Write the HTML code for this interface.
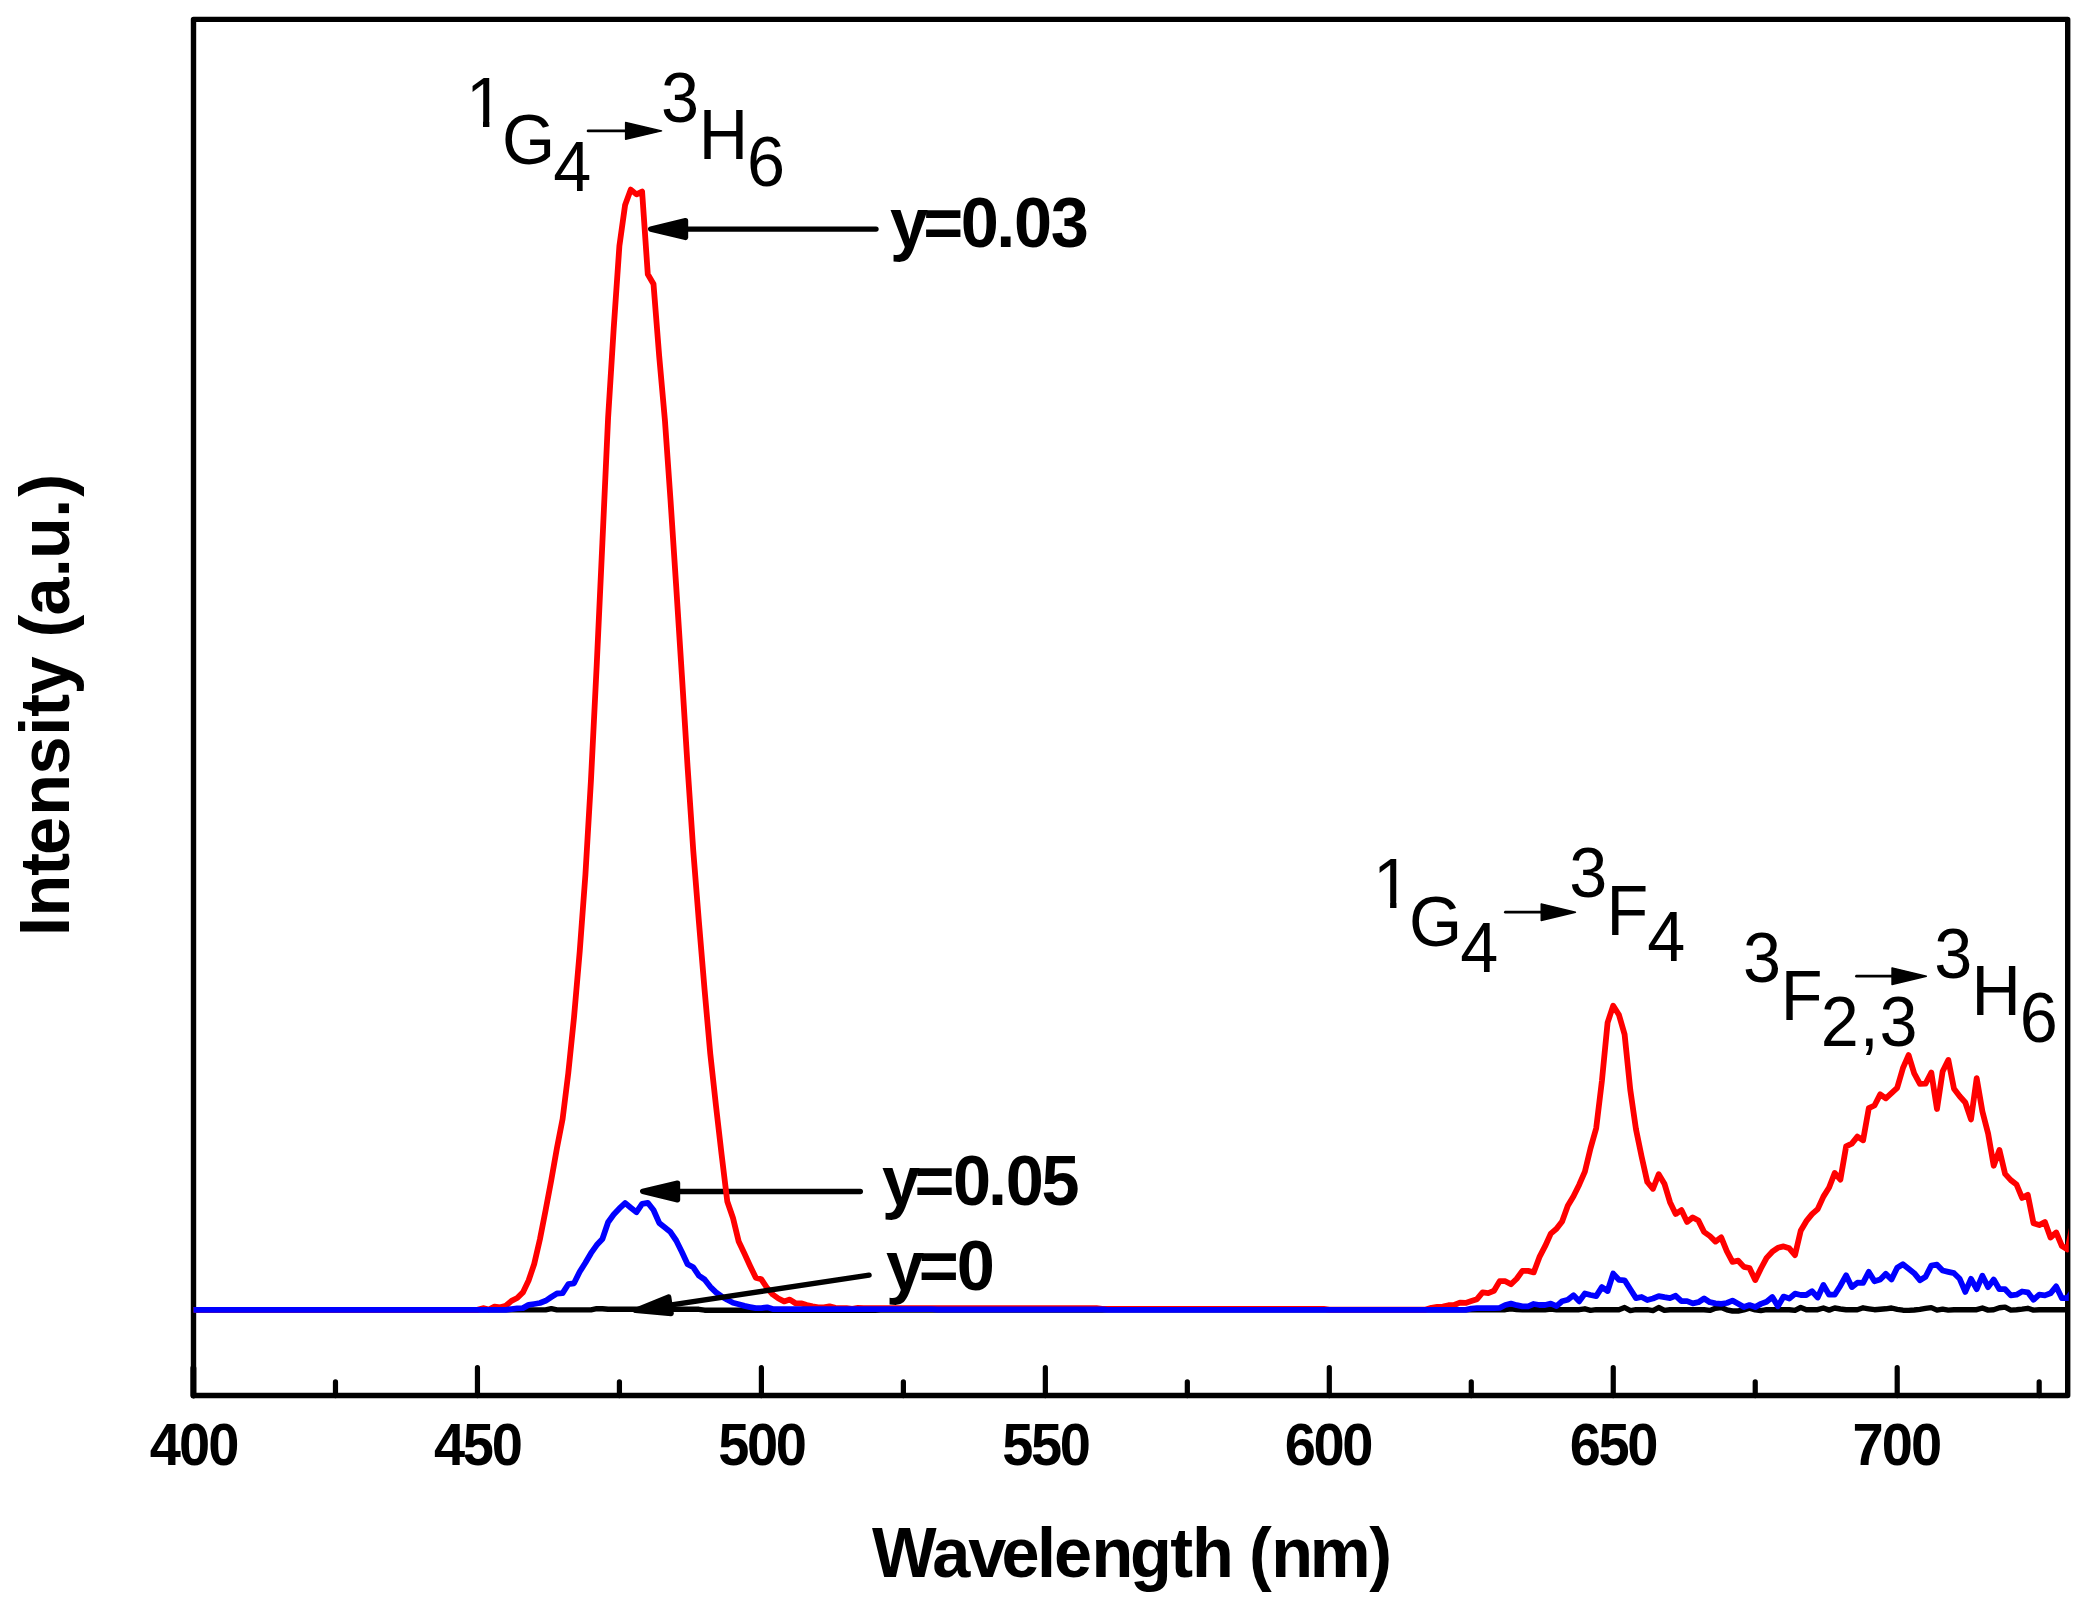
<!DOCTYPE html>
<html lang="en"><head><meta charset="utf-8"><title>Emission spectra</title>
<style>html,body{margin:0;padding:0;background:#fff}body{width:2094px;height:1602px;overflow:hidden}svg{display:block}text{font-family:"Liberation Sans",sans-serif;fill:#000}.b{font-weight:bold}</style></head><body>
<svg width="2094" height="1602" viewBox="0 0 2094 1602">
<rect width="2094" height="1602" fill="#fff"/>
<g fill="none" stroke="#000" stroke-width="5.4" stroke-linecap="round" stroke-linejoin="round">
<rect x="193.50" y="19.40" width="1874.20" height="1376.15"/>
<path stroke-width="5.2" d="M193.50,1395.55 V1367.70 M335.48,1395.55 V1381.90 M477.45,1395.55 V1367.70 M619.42,1395.55 V1381.90 M761.40,1395.55 V1367.70 M903.38,1395.55 V1381.90 M1045.35,1395.55 V1367.70 M1187.33,1395.55 V1381.90 M1329.30,1395.55 V1367.70 M1471.28,1395.55 V1381.90 M1613.25,1395.55 V1367.70 M1755.23,1395.55 V1381.90 M1897.20,1395.55 V1367.70 M2039.18,1395.55 V1381.90"/>
<path stroke-width="5.9" d="M193.35,1395.5 V1368.0"/>
</g>
<path d="M860.30,1191.45 L677.50,1191.45" fill="none" stroke="#000" stroke-width="5.40" stroke-linecap="round"/><path d="M642.70,1191.45 L677.50,1199.80 L677.50,1183.10 Z" fill="#000" stroke="#000" stroke-width="5.40" stroke-linejoin="round"/>
<clipPath id="cp"><rect x="0" y="0" width="2068.8" height="1602"/></clipPath>
<g fill="none" stroke-width="5.8" stroke-linejoin="round" stroke-linecap="butt" clip-path="url(#cp)">
<path stroke="#000" stroke-width="5.4" d="M193.5,1309.9 L199.2,1309.9 L204.9,1309.9 L210.5,1309.9 L216.2,1309.9 L221.9,1309.9 L227.6,1309.9 L233.3,1309.9 L238.9,1309.9 L244.6,1309.9 L250.3,1309.9 L256.0,1309.9 L261.6,1309.9 L267.3,1309.9 L273.0,1309.9 L278.7,1309.9 L284.4,1309.9 L290.0,1309.9 L295.7,1309.9 L301.4,1309.9 L307.1,1309.9 L312.8,1309.9 L318.4,1309.9 L324.1,1309.9 L329.8,1309.9 L335.5,1309.9 L341.2,1309.9 L346.8,1309.9 L352.5,1309.9 L358.2,1309.9 L363.9,1309.9 L369.5,1309.9 L375.2,1309.9 L380.9,1309.9 L386.6,1309.9 L392.3,1309.9 L397.9,1309.9 L403.6,1309.9 L409.3,1309.9 L415.0,1309.9 L420.7,1309.9 L426.3,1309.9 L432.0,1309.9 L437.7,1309.9 L443.4,1309.9 L449.1,1309.9 L454.7,1309.9 L460.4,1309.9 L466.1,1309.9 L471.8,1309.9 L477.4,1309.9 L483.1,1309.9 L488.8,1309.9 L494.5,1309.9 L500.2,1309.9 L505.8,1309.9 L511.5,1309.9 L517.2,1309.9 L522.9,1309.9 L528.6,1309.9 L534.2,1309.9 L539.9,1309.9 L545.6,1309.9 L551.3,1308.6 L557.0,1309.9 L562.6,1309.9 L568.3,1309.9 L574.0,1309.9 L579.7,1309.9 L585.4,1309.9 L591.0,1309.9 L596.7,1308.7 L602.4,1308.7 L608.1,1309.3 L613.7,1309.3 L619.4,1309.3 L625.1,1309.3 L630.8,1309.3 L636.5,1309.3 L642.1,1309.3 L647.8,1309.3 L653.5,1309.3 L659.2,1309.3 L664.9,1309.3 L670.5,1309.3 L676.2,1309.3 L681.9,1309.3 L687.6,1309.3 L693.3,1309.3 L698.9,1309.3 L704.6,1310.2 L710.3,1310.2 L716.0,1310.2 L721.6,1310.2 L727.3,1310.2 L733.0,1310.2 L738.7,1310.2 L744.4,1310.2 L750.0,1310.2 L755.7,1310.2 L761.4,1310.2 L767.1,1310.2 L772.8,1310.2 L778.4,1310.2 L784.1,1310.2 L789.8,1310.2 L795.5,1310.2 L801.2,1310.2 L806.8,1310.2 L812.5,1310.2 L818.2,1310.2 L823.9,1310.2 L829.5,1310.2 L835.2,1310.2 L840.9,1310.2 L846.6,1310.2 L852.3,1310.2 L857.9,1310.2 L863.6,1310.2 L869.3,1310.2 L875.0,1310.2 L880.7,1310.0 L886.3,1310.0 L892.0,1310.0 L897.7,1310.0 L903.4,1310.0 L909.1,1310.0 L914.7,1310.0 L920.4,1310.0 L926.1,1310.0 L931.8,1310.0 L937.4,1310.0 L943.1,1310.0 L948.8,1310.0 L954.5,1310.0 L960.2,1310.0 L965.8,1310.0 L971.5,1310.0 L977.2,1310.0 L982.9,1310.0 L988.6,1310.0 L994.2,1310.0 L999.9,1310.0 L1005.6,1310.0 L1011.3,1310.0 L1017.0,1310.0 L1022.6,1310.0 L1028.3,1310.0 L1034.0,1310.0 L1039.7,1310.0 L1045.3,1310.0 L1051.0,1310.0 L1056.7,1310.0 L1062.4,1310.0 L1068.1,1310.0 L1073.7,1310.0 L1079.4,1310.0 L1085.1,1310.0 L1090.8,1310.0 L1096.5,1310.0 L1102.1,1310.0 L1107.8,1309.7 L1113.5,1309.7 L1119.2,1309.7 L1124.9,1309.7 L1130.5,1309.7 L1136.2,1309.7 L1141.9,1309.7 L1147.6,1309.7 L1153.3,1309.7 L1158.9,1309.7 L1164.6,1309.7 L1170.3,1309.7 L1176.0,1309.7 L1181.6,1309.7 L1187.3,1309.7 L1193.0,1309.7 L1198.7,1309.7 L1204.4,1309.7 L1210.0,1309.7 L1215.7,1309.7 L1221.4,1309.7 L1227.1,1309.7 L1232.8,1309.7 L1238.4,1309.7 L1244.1,1309.7 L1249.8,1309.7 L1255.5,1309.7 L1261.2,1309.7 L1266.8,1309.7 L1272.5,1309.7 L1278.2,1309.7 L1283.9,1309.7 L1289.5,1309.7 L1295.2,1309.7 L1300.9,1309.7 L1306.6,1309.7 L1312.3,1309.7 L1317.9,1309.7 L1323.6,1309.7 L1329.3,1309.7 L1335.0,1309.7 L1340.7,1309.7 L1346.3,1309.7 L1352.0,1309.7 L1357.7,1309.7 L1363.4,1309.7 L1369.1,1309.7 L1374.7,1309.7 L1380.4,1309.7 L1386.1,1309.7 L1391.8,1309.7 L1397.4,1309.7 L1403.1,1309.7 L1408.8,1309.7 L1414.5,1309.7 L1420.2,1309.7 L1425.8,1309.7 L1431.5,1309.7 L1437.2,1309.7 L1442.9,1309.7 L1448.6,1309.7 L1454.2,1309.7 L1459.9,1309.7 L1465.6,1309.7 L1471.3,1309.7 L1477.0,1309.7 L1482.6,1309.7 L1488.3,1309.7 L1494.0,1309.7 L1499.7,1309.7 L1505.3,1309.7 L1511.0,1308.8 L1516.7,1309.6 L1522.4,1309.7 L1528.1,1309.7 L1533.7,1309.7 L1539.4,1309.7 L1545.1,1309.7 L1550.8,1309.0 L1556.5,1309.7 L1562.1,1309.7 L1567.8,1309.7 L1573.5,1309.7 L1579.2,1309.7 L1584.9,1308.8 L1590.5,1310.4 L1596.2,1309.6 L1601.9,1309.7 L1607.6,1309.7 L1613.2,1309.7 L1618.9,1309.7 L1624.6,1307.5 L1630.3,1310.6 L1636.0,1309.7 L1641.6,1309.7 L1647.3,1309.7 L1653.0,1310.6 L1658.7,1307.5 L1664.4,1310.4 L1670.0,1309.7 L1675.7,1309.7 L1681.4,1309.7 L1687.1,1309.7 L1692.8,1309.7 L1698.4,1309.7 L1704.1,1309.7 L1709.8,1310.4 L1715.5,1308.2 L1721.2,1307.6 L1726.8,1309.8 L1732.5,1311.0 L1738.2,1311.0 L1743.9,1309.8 L1749.5,1308.1 L1755.2,1309.8 L1760.9,1310.6 L1766.6,1309.7 L1772.3,1309.7 L1777.9,1309.7 L1783.6,1309.7 L1789.3,1309.7 L1795.0,1310.4 L1800.7,1307.5 L1806.3,1309.8 L1812.0,1309.7 L1817.7,1309.7 L1823.4,1308.0 L1829.1,1310.1 L1834.7,1308.0 L1840.4,1309.0 L1846.1,1309.7 L1851.8,1309.7 L1857.4,1309.7 L1863.1,1307.8 L1868.8,1308.8 L1874.5,1309.7 L1880.2,1309.2 L1885.8,1308.8 L1891.5,1308.0 L1897.2,1309.4 L1902.9,1310.2 L1908.6,1310.4 L1914.2,1310.0 L1919.9,1309.4 L1925.6,1308.4 L1931.3,1307.6 L1937.0,1310.1 L1942.6,1309.1 L1948.3,1310.1 L1954.0,1309.7 L1959.7,1309.7 L1965.3,1309.7 L1971.0,1309.7 L1976.7,1309.7 L1982.4,1308.0 L1988.1,1310.1 L1993.7,1309.7 L1999.4,1307.8 L2005.1,1307.1 L2010.8,1310.1 L2016.5,1309.7 L2022.1,1309.1 L2027.8,1308.3 L2033.5,1310.1 L2039.2,1309.7 L2044.9,1309.7 L2050.5,1309.7 L2056.2,1309.7 L2061.9,1309.7 L2067.6,1309.7 L2073.2,1309.7"/>
<path stroke="#f00" d="M193.5,1309.9 L199.2,1309.9 L204.9,1309.9 L210.5,1309.9 L216.2,1309.9 L221.9,1309.9 L227.6,1309.9 L233.3,1309.9 L238.9,1309.9 L244.6,1309.9 L250.3,1309.9 L256.0,1309.9 L261.6,1309.9 L267.3,1309.9 L273.0,1309.9 L278.7,1309.9 L284.4,1309.9 L290.0,1309.9 L295.7,1309.9 L301.4,1309.9 L307.1,1309.9 L312.8,1309.9 L318.4,1309.9 L324.1,1309.9 L329.8,1309.9 L335.5,1309.9 L341.2,1309.9 L346.8,1309.9 L352.5,1309.9 L358.2,1309.9 L363.9,1309.9 L369.5,1309.9 L375.2,1309.9 L380.9,1309.9 L386.6,1309.9 L392.3,1309.9 L397.9,1309.9 L403.6,1309.9 L409.3,1309.9 L415.0,1309.9 L420.7,1309.9 L426.3,1309.9 L432.0,1309.9 L437.7,1309.9 L443.4,1309.9 L449.1,1309.9 L454.7,1309.9 L460.4,1309.9 L466.1,1309.9 L471.8,1309.9 L477.4,1309.9 L483.1,1308.2 L488.8,1309.5 L494.5,1306.6 L500.2,1307.4 L505.8,1305.8 L511.5,1300.9 L517.2,1298.0 L522.9,1292.4 L528.6,1280.5 L534.2,1264.0 L539.9,1239.4 L545.6,1210.2 L551.3,1180.0 L557.0,1147.8 L562.6,1119.0 L568.3,1073.0 L574.0,1017.5 L579.7,951.7 L585.4,874.9 L591.0,779.5 L596.7,665.4 L602.4,542.3 L608.1,417.8 L613.7,328.5 L619.4,245.9 L625.1,205.0 L630.8,189.6 L636.5,194.4 L642.1,191.6 L647.8,274.3 L653.5,283.9 L659.2,356.2 L664.9,420.0 L670.5,499.9 L676.2,586.5 L681.9,675.5 L687.6,767.0 L693.3,851.1 L698.9,921.8 L704.6,990.1 L710.3,1054.0 L716.0,1106.0 L721.6,1154.5 L727.3,1201.5 L733.0,1218.0 L738.7,1241.5 L744.4,1253.5 L750.0,1265.7 L755.7,1277.6 L761.4,1279.3 L767.1,1288.0 L772.8,1294.5 L778.4,1298.5 L784.1,1301.4 L789.8,1299.6 L795.5,1303.3 L801.2,1303.4 L806.8,1305.0 L812.5,1306.3 L818.2,1307.3 L823.9,1307.3 L829.5,1306.3 L835.2,1307.9 L840.9,1308.1 L846.6,1308.1 L852.3,1308.8 L857.9,1307.9 L863.6,1308.1 L869.3,1308.1 L875.0,1308.1 L880.7,1308.1 L886.3,1308.1 L892.0,1308.1 L897.7,1308.1 L903.4,1308.1 L909.1,1308.1 L914.7,1308.1 L920.4,1308.1 L926.1,1308.1 L931.8,1308.1 L937.4,1308.1 L943.1,1308.1 L948.8,1308.1 L954.5,1308.1 L960.2,1308.1 L965.8,1308.1 L971.5,1308.1 L977.2,1308.1 L982.9,1308.1 L988.6,1308.1 L994.2,1308.1 L999.9,1308.1 L1005.6,1308.1 L1011.3,1308.1 L1017.0,1308.1 L1022.6,1308.1 L1028.3,1308.1 L1034.0,1308.1 L1039.7,1308.1 L1045.3,1308.1 L1051.0,1308.1 L1056.7,1308.1 L1062.4,1308.1 L1068.1,1308.1 L1073.7,1308.1 L1079.4,1308.1 L1085.1,1308.1 L1090.8,1308.1 L1096.5,1308.1 L1102.1,1308.8 L1107.8,1308.8 L1113.5,1308.8 L1119.2,1308.8 L1124.9,1308.8 L1130.5,1308.8 L1136.2,1308.8 L1141.9,1308.8 L1147.6,1308.8 L1153.3,1308.8 L1158.9,1308.8 L1164.6,1308.8 L1170.3,1308.8 L1176.0,1308.8 L1181.6,1308.8 L1187.3,1308.8 L1193.0,1308.8 L1198.7,1308.8 L1204.4,1308.8 L1210.0,1308.8 L1215.7,1308.8 L1221.4,1308.8 L1227.1,1308.8 L1232.8,1308.8 L1238.4,1308.8 L1244.1,1308.8 L1249.8,1308.8 L1255.5,1308.8 L1261.2,1308.8 L1266.8,1308.8 L1272.5,1308.8 L1278.2,1308.8 L1283.9,1308.8 L1289.5,1308.8 L1295.2,1308.8 L1300.9,1308.8 L1306.6,1308.8 L1312.3,1308.8 L1317.9,1308.8 L1323.6,1308.8 L1329.3,1309.6 L1335.0,1309.6 L1340.7,1309.6 L1346.3,1309.6 L1352.0,1309.6 L1357.7,1309.6 L1363.4,1309.6 L1369.1,1309.6 L1374.7,1309.6 L1380.4,1309.6 L1386.1,1309.6 L1391.8,1309.6 L1397.4,1309.6 L1403.1,1309.6 L1408.8,1309.6 L1414.5,1309.6 L1420.2,1309.6 L1425.8,1309.6 L1431.5,1307.8 L1437.2,1306.9 L1442.9,1306.6 L1448.6,1305.2 L1454.2,1305.0 L1459.9,1302.6 L1465.6,1302.9 L1471.3,1301.1 L1477.0,1299.2 L1482.6,1292.4 L1488.3,1293.1 L1494.0,1290.8 L1499.7,1281.1 L1505.3,1281.2 L1511.0,1284.3 L1516.7,1278.7 L1522.4,1270.9 L1528.1,1270.9 L1533.7,1272.4 L1539.4,1257.2 L1545.1,1246.2 L1550.8,1233.6 L1556.5,1228.8 L1562.1,1221.5 L1567.8,1205.7 L1573.5,1196.3 L1579.2,1184.7 L1584.9,1171.6 L1590.5,1148.4 L1596.2,1128.2 L1601.9,1081.0 L1607.6,1022.6 L1613.2,1005.7 L1618.9,1014.7 L1624.6,1034.4 L1630.3,1090.0 L1636.0,1129.3 L1641.6,1156.5 L1647.3,1182.0 L1653.0,1188.8 L1658.7,1174.2 L1664.4,1183.7 L1670.0,1202.2 L1675.7,1214.0 L1681.4,1210.1 L1687.1,1221.9 L1692.8,1217.4 L1698.4,1220.6 L1704.1,1232.0 L1709.8,1236.0 L1715.5,1241.6 L1721.2,1237.4 L1726.8,1251.1 L1732.5,1261.8 L1738.2,1260.7 L1743.9,1266.9 L1749.5,1268.0 L1755.2,1280.1 L1760.9,1268.5 L1766.6,1257.9 L1772.3,1251.7 L1777.9,1247.8 L1783.6,1246.4 L1789.3,1248.3 L1795.0,1255.1 L1800.7,1230.8 L1806.3,1221.2 L1812.0,1214.2 L1817.7,1209.1 L1823.4,1196.6 L1829.1,1187.5 L1834.7,1173.0 L1840.4,1179.6 L1846.1,1146.4 L1851.8,1143.6 L1857.4,1136.6 L1863.1,1140.3 L1868.8,1108.2 L1874.5,1105.5 L1880.2,1094.4 L1885.8,1098.3 L1891.5,1093.1 L1897.2,1087.8 L1902.9,1068.2 L1908.6,1055.1 L1914.2,1073.4 L1919.9,1083.9 L1925.6,1083.6 L1931.3,1072.5 L1937.0,1109.0 L1942.6,1071.6 L1948.3,1059.9 L1954.0,1088.7 L1959.7,1096.3 L1965.3,1102.5 L1971.0,1119.4 L1976.7,1078.2 L1982.4,1111.4 L1988.1,1133.4 L1993.7,1165.7 L1999.4,1149.9 L2005.1,1173.9 L2010.8,1180.1 L2016.5,1184.5 L2022.1,1197.9 L2027.8,1194.9 L2033.5,1223.3 L2039.2,1225.1 L2044.9,1222.0 L2050.5,1237.5 L2056.2,1232.5 L2061.9,1246.0 L2067.6,1249.4 L2073.2,1221.6"/>
<path stroke="#00f" d="M193.5,1309.8 L199.2,1309.8 L204.9,1309.8 L210.5,1309.8 L216.2,1309.8 L221.9,1309.8 L227.6,1309.8 L233.3,1309.8 L238.9,1309.8 L244.6,1309.8 L250.3,1309.8 L256.0,1309.8 L261.6,1309.8 L267.3,1309.8 L273.0,1309.8 L278.7,1309.8 L284.4,1309.8 L290.0,1309.8 L295.7,1309.8 L301.4,1309.8 L307.1,1309.8 L312.8,1309.8 L318.4,1309.8 L324.1,1309.8 L329.8,1309.8 L335.5,1309.8 L341.2,1309.8 L346.8,1309.8 L352.5,1309.8 L358.2,1309.8 L363.9,1309.8 L369.5,1309.8 L375.2,1309.8 L380.9,1309.8 L386.6,1309.8 L392.3,1309.8 L397.9,1309.8 L403.6,1309.8 L409.3,1309.8 L415.0,1309.8 L420.7,1309.8 L426.3,1309.8 L432.0,1309.8 L437.7,1309.8 L443.4,1309.8 L449.1,1309.8 L454.7,1309.8 L460.4,1309.8 L466.1,1309.8 L471.8,1309.8 L477.4,1309.8 L483.1,1309.8 L488.8,1309.8 L494.5,1309.8 L500.2,1309.8 L505.8,1309.8 L511.5,1309.1 L517.2,1308.3 L522.9,1308.1 L528.6,1304.9 L534.2,1304.0 L539.9,1303.0 L545.6,1300.8 L551.3,1297.0 L557.0,1293.5 L562.6,1293.1 L568.3,1284.2 L574.0,1283.3 L579.7,1271.8 L585.4,1262.8 L591.0,1253.2 L596.7,1245.1 L602.4,1239.0 L608.1,1222.2 L613.7,1214.5 L619.4,1208.4 L625.1,1203.1 L630.8,1207.7 L636.5,1212.2 L642.1,1203.8 L647.8,1202.8 L653.5,1210.0 L659.2,1222.9 L664.9,1227.5 L670.5,1232.1 L676.2,1240.5 L681.9,1252.0 L687.6,1264.2 L693.3,1267.3 L698.9,1275.7 L704.6,1279.5 L710.3,1286.8 L716.0,1292.3 L721.6,1296.4 L727.3,1299.8 L733.0,1302.8 L738.7,1304.2 L744.4,1305.9 L750.0,1307.1 L755.7,1308.2 L761.4,1308.1 L767.1,1307.3 L772.8,1309.1 L778.4,1309.2 L784.1,1309.2 L789.8,1309.2 L795.5,1309.2 L801.2,1309.2 L806.8,1309.2 L812.5,1309.2 L818.2,1309.2 L823.9,1309.2 L829.5,1309.2 L835.2,1309.2 L840.9,1309.2 L846.6,1309.2 L852.3,1309.2 L857.9,1309.2 L863.6,1309.2 L869.3,1309.2 L875.0,1309.2 L880.7,1309.2 L886.3,1309.2 L892.0,1309.2 L897.7,1309.2 L903.4,1309.2 L909.1,1309.2 L914.7,1309.2 L920.4,1309.2 L926.1,1309.2 L931.8,1309.2 L937.4,1309.5 L943.1,1309.5 L948.8,1309.5 L954.5,1309.5 L960.2,1309.5 L965.8,1309.5 L971.5,1309.5 L977.2,1309.5 L982.9,1309.5 L988.6,1309.5 L994.2,1309.5 L999.9,1309.5 L1005.6,1309.5 L1011.3,1309.5 L1017.0,1309.5 L1022.6,1309.5 L1028.3,1309.5 L1034.0,1309.5 L1039.7,1309.5 L1045.3,1309.5 L1051.0,1309.5 L1056.7,1309.5 L1062.4,1309.5 L1068.1,1309.5 L1073.7,1309.5 L1079.4,1309.5 L1085.1,1309.5 L1090.8,1309.5 L1096.5,1309.5 L1102.1,1309.5 L1107.8,1309.8 L1113.5,1309.8 L1119.2,1309.8 L1124.9,1309.8 L1130.5,1309.8 L1136.2,1309.8 L1141.9,1309.8 L1147.6,1309.8 L1153.3,1309.8 L1158.9,1309.8 L1164.6,1309.8 L1170.3,1309.8 L1176.0,1309.8 L1181.6,1309.8 L1187.3,1309.8 L1193.0,1309.8 L1198.7,1309.8 L1204.4,1309.8 L1210.0,1309.8 L1215.7,1309.8 L1221.4,1309.8 L1227.1,1309.8 L1232.8,1309.8 L1238.4,1309.8 L1244.1,1309.8 L1249.8,1309.8 L1255.5,1309.8 L1261.2,1309.8 L1266.8,1309.8 L1272.5,1309.8 L1278.2,1309.8 L1283.9,1309.8 L1289.5,1309.8 L1295.2,1309.8 L1300.9,1309.8 L1306.6,1309.8 L1312.3,1309.8 L1317.9,1309.8 L1323.6,1309.8 L1329.3,1309.8 L1335.0,1309.8 L1340.7,1309.8 L1346.3,1309.8 L1352.0,1309.8 L1357.7,1309.8 L1363.4,1309.8 L1369.1,1309.8 L1374.7,1309.8 L1380.4,1309.8 L1386.1,1309.8 L1391.8,1309.8 L1397.4,1309.8 L1403.1,1309.8 L1408.8,1309.8 L1414.5,1309.8 L1420.2,1309.8 L1425.8,1309.8 L1431.5,1309.8 L1437.2,1309.8 L1442.9,1309.8 L1448.6,1309.8 L1454.2,1309.8 L1459.9,1309.8 L1465.6,1309.8 L1471.3,1308.7 L1477.0,1308.2 L1482.6,1308.2 L1488.3,1308.2 L1494.0,1308.2 L1499.7,1307.8 L1505.3,1305.0 L1511.0,1303.6 L1516.7,1305.2 L1522.4,1306.4 L1528.1,1306.4 L1533.7,1304.0 L1539.4,1305.0 L1545.1,1305.0 L1550.8,1303.6 L1556.5,1306.1 L1562.1,1301.3 L1567.8,1299.8 L1573.5,1295.2 L1579.2,1301.3 L1584.9,1293.5 L1590.5,1295.0 L1596.2,1296.1 L1601.9,1287.1 L1607.6,1291.0 L1613.2,1273.6 L1618.9,1279.8 L1624.6,1280.3 L1630.3,1289.3 L1636.0,1298.1 L1641.6,1297.0 L1647.3,1300.0 L1653.0,1298.5 L1658.7,1296.1 L1664.4,1297.2 L1670.0,1298.1 L1675.7,1295.8 L1681.4,1301.1 L1687.1,1301.1 L1692.8,1303.4 L1698.4,1302.2 L1704.1,1298.5 L1709.8,1302.2 L1715.5,1303.4 L1721.2,1303.9 L1726.8,1303.0 L1732.5,1300.6 L1738.2,1303.7 L1743.9,1307.1 L1749.5,1305.1 L1755.2,1307.1 L1760.9,1303.9 L1766.6,1301.7 L1772.3,1297.0 L1777.9,1306.2 L1783.6,1296.6 L1789.3,1298.5 L1795.0,1293.7 L1800.7,1295.0 L1806.3,1295.0 L1812.0,1291.2 L1817.7,1297.5 L1823.4,1285.0 L1829.1,1294.7 L1834.7,1294.7 L1840.4,1285.7 L1846.1,1275.3 L1851.8,1287.1 L1857.4,1282.7 L1863.1,1282.9 L1868.8,1271.9 L1874.5,1281.3 L1880.2,1279.5 L1885.8,1273.9 L1891.5,1279.5 L1897.2,1267.7 L1902.9,1264.2 L1908.6,1268.8 L1914.2,1273.2 L1919.9,1280.2 L1925.6,1276.7 L1931.3,1265.6 L1937.0,1264.7 L1942.6,1270.5 L1948.3,1271.9 L1954.0,1273.2 L1959.7,1278.8 L1965.3,1291.9 L1971.0,1278.8 L1976.7,1289.2 L1982.4,1275.7 L1988.1,1287.1 L1993.7,1279.5 L1999.4,1289.2 L2005.1,1289.2 L2010.8,1295.4 L2016.5,1294.7 L2022.1,1291.5 L2027.8,1292.3 L2033.5,1299.8 L2039.2,1294.7 L2044.9,1295.4 L2050.5,1293.3 L2056.2,1286.4 L2061.9,1298.2 L2067.6,1298.2 L2073.2,1290.5"/>
</g>
<path d="M876.00,229.10 L685.50,229.10" fill="none" stroke="#000" stroke-width="5.40" stroke-linecap="round"/><path d="M650.70,229.10 L685.50,237.45 L685.50,220.75 Z" fill="#000" stroke="#000" stroke-width="5.40" stroke-linejoin="round"/>
<path d="M869.10,1275.10 L669.88,1305.20" fill="none" stroke="#000" stroke-width="5.40" stroke-linecap="round"/><path d="M635.47,1310.40 L671.13,1313.45 L668.63,1296.94 Z" fill="#000" stroke="#000" stroke-width="5.40" stroke-linejoin="round"/>
<g transform="scale(1,1.0440)"><text class="b" font-size="56.00" x="149.85 179.00 208.15" y="1403.26">400</text></g>
<g transform="scale(1,1.0440)"><text class="b" font-size="56.00" x="434.05 462.85 491.65" y="1403.26">450</text></g>
<g transform="scale(1,1.0440)"><text class="b" font-size="56.00" x="718.38 747.11 775.85" y="1403.26">500</text></g>
<g transform="scale(1,1.0440)"><text class="b" font-size="56.00" x="1002.38 1031.11 1059.85" y="1403.26">550</text></g>
<g transform="scale(1,1.0440)"><text class="b" font-size="56.00" x="1284.85 1313.60 1342.35" y="1403.26">600</text></g>
<g transform="scale(1,1.0440)"><text class="b" font-size="56.00" x="1569.75 1598.45 1627.15" y="1403.26">650</text></g>
<g transform="scale(1,1.0440)"><text class="b" font-size="56.00" x="1852.49 1881.77 1911.05" y="1403.26">700</text></g>
<g transform="scale(1,1.0350)"><text class="b" font-size="68.50" x="871.93 932.19 968.33 1001.42 1037.12 1054.12 1091.48 1129.89 1170.26 1192.12 1235.00 1248.99 1271.28 1309.68 1369.33" y="1523.86 1523.86 1523.86 1523.86 1523.86 1523.86 1523.86 1523.86 1523.86 1523.86 1523.86 1523.86 1523.86 1523.86 1523.86">Wavelength (nm)</text></g>
<g transform="translate(69.4,931.3) rotate(-90) scale(1,1.0350)"><text class="b" font-size="68.50" x="-4.58 14.88 55.46 76.32 115.58 156.89 195.62 214.46 236.76 280.00 293.69 315.69 354.05 372.35 413.65 434.43" y="0">Intensity (a.u.)</text></g>
<g transform="scale(1,1.0310)"><text class="b" font-size="68.50" x="889.96 923.16 960.79 996.15 1013.89 1050.73" y="239.48 239.48 239.48 239.48 239.48 239.48">y=0.03</text></g>
<g transform="scale(1,1.0310)"><text class="b" font-size="68.50" x="881.96 914.56 952.89 988.05 1005.79 1041.59" y="1168.77 1168.77 1168.77 1168.77 1168.77 1168.77">y=0.05</text></g>
<g transform="scale(1,1.0310)"><text class="b" font-size="68.50" x="886.06 918.76 956.79" y="1251.41 1251.41 1251.41">y=0</text></g>
<g transform="scale(1,1.0310)"><text font-size="68.40" x="465.95 501.96 553.33 661.09 698.79 747.03" y="123.18 159.17 184.92 118.33 154.03 180.60">1G43H6</text></g>
<g transform="scale(1,1.0310)"><text font-size="68.40" x="1373.05 1408.96 1460.23 1569.19 1606.59 1647.23" y="880.60 917.85 942.48 870.42 906.64 932.01">1G43F4</text></g>
<g transform="scale(1,1.0310)"><text font-size="68.40" x="1742.89 1780.79 1820.76 1859.65 1879.49 1934.19 1971.59 2019.63" y="952.86 989.04 1014.35 1014.35 1014.84 948.98 984.38 1010.67">3F2,33H6</text></g>
<rect x="469.96" y="120.53" width="13.04" height="7.67" fill="#fff"/><rect x="489.35" y="120.53" width="12.51" height="7.67" fill="#fff"/>
<rect x="1377.06" y="901.43" width="13.04" height="7.67" fill="#fff"/><rect x="1396.45" y="901.43" width="12.51" height="7.67" fill="#fff"/>
<path d="M588.10,130.90 H626.90" stroke="#000" stroke-width="2.80" stroke-linecap="round" fill="none"/><path d="M661.60,130.90 L625.60,122.55 L625.60,139.25 Z" fill="#000" stroke="#000" stroke-width="1.4" stroke-linejoin="round"/>
<path d="M1505.40,912.20 H1542.50" stroke="#000" stroke-width="2.80" stroke-linecap="round" fill="none"/><path d="M1575.50,912.20 L1541.20,903.85 L1541.20,920.55 Z" fill="#000" stroke="#000" stroke-width="1.4" stroke-linejoin="round"/>
<path d="M1856.50,976.20 H1893.30" stroke="#000" stroke-width="2.80" stroke-linecap="round" fill="none"/><path d="M1926.40,976.20 L1892.00,967.85 L1892.00,984.55 Z" fill="#000" stroke="#000" stroke-width="1.4" stroke-linejoin="round"/>
</svg></body></html>
